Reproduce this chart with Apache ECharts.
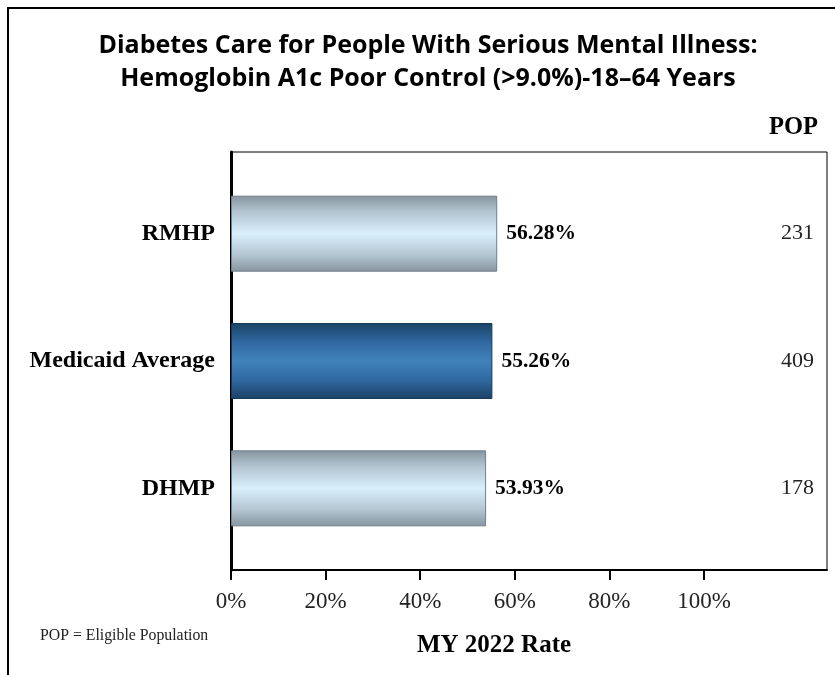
<!DOCTYPE html>
<html>
<head>
<meta charset="utf-8">
<script src="https://cdn.jsdelivr.net/npm/echarts@6/dist/echarts.min.js"></script>
<style>
html,body{margin:0;padding:0;background:#fff;}
#chart{width:835px;height:675px;}
</style>
</head>
<body>
<div id="chart"></div>
<script>
const categories = ['RMHP', 'Medicaid Average', 'DHMP'];
const rates = [56.28, 55.26, 53.93];
const pops = [231, 409, 178];
const xTicks = [0, 20, 40, 60, 80, 100];
const highlightCategory = 'Medicaid Average';

const serif = '"Liberation Serif", "Times New Roman", serif';

const lightFill = {
  type: 'linear', x: 0, y: 0, x2: 0, y2: 1,
  colorStops: [
    { offset: 0, color: '#87959f' },
    { offset: 0.22, color: '#b3c6d2' },
    { offset: 0.5, color: '#d9effc' },
    { offset: 0.78, color: '#b3c6d2' },
    { offset: 1, color: '#87959f' }
  ]
};
const darkFill = {
  type: 'linear', x: 0, y: 0, x2: 0, y2: 1,
  colorStops: [
    { offset: 0, color: '#1b4266' },
    { offset: 0.25, color: '#3068a0' },
    { offset: 0.5, color: '#4182bb' },
    { offset: 0.75, color: '#3068a0' },
    { offset: 1, color: '#1b4266' }
  ]
};

const chart = echarts.init(document.getElementById('chart'));
chart.setOption({
  backgroundColor: '#fff',
  animation: false,
  grid: [
    { left: 231, right: 8, top: 152, bottom: 105, show: true, borderColor: '#000', borderWidth: 1, backgroundColor: 'transparent', containLabel: false },
    { left: 231, right: 8, top: 170, bottom: 123, containLabel: false }
  ],
  xAxis: [
    {
      gridIndex: 0, type: 'value', min: 0, max: 126, interval: 20,
      axisLine: { show: true, onZero: false, lineStyle: { color: '#000', width: 2 } },
      axisTick: { show: true, customValues: xTicks, length: 10, lineStyle: { color: '#000', width: 2 } },
      axisLabel: { customValues: xTicks, formatter: v => v + '%', fontFamily: serif, fontSize: 23, color: '#222', margin: 20 },
      splitLine: { show: false }
    },
    {
      gridIndex: 1, type: 'value', min: 0, max: 126, show: false, splitLine: { show: false }
    }
  ],
  yAxis: [
    {
      gridIndex: 0, type: 'value', min: 0, max: 1,
      axisLine: { show: true, onZero: false, lineStyle: { color: '#000', width: 3 } },
      axisTick: { show: false }, axisLabel: { show: false }, splitLine: { show: false }
    },
    {
      gridIndex: 1, type: 'category', inverse: true, data: categories,
      axisLine: { show: false }, axisTick: { show: false },
      axisLabel: { fontFamily: serif, fontWeight: 'bold', fontSize: 24, color: '#000', margin: 16 }
    },
    {
      gridIndex: 1, type: 'category', inverse: true, position: 'right', data: pops.map(String),
      axisLine: { show: false }, axisTick: { show: false },
      axisLabel: { inside: true, fontFamily: serif, fontSize: 22, color: '#222', margin: 13 }
    }
  ],
  series: [
    {
      type: 'bar', xAxisIndex: 1, yAxisIndex: 1, barWidth: 76,
      data: rates.map((v, i) => ({
        value: v,
        itemStyle: categories[i] === highlightCategory
          ? { color: darkFill, borderColor: '#163a5a', borderWidth: 1 }
          : { color: lightFill, borderColor: '#6f7f8a', borderWidth: 1 }
      })),
      label: {
        show: true, position: 'right', distance: 9,
        formatter: p => p.value.toFixed(2) + '%',
        fontFamily: serif, fontWeight: 'bold', fontSize: 21.5, color: '#000'
      }
    }
  ],
  graphic: [
    { type: 'line', shape: { x1: 7, y1: 8, x2: 835, y2: 8 }, style: { stroke: '#000', lineWidth: 2 } },
    { type: 'line', shape: { x1: 8, y1: 7, x2: 8, y2: 675 }, style: { stroke: '#000', lineWidth: 2 } },
    { type: 'text', x: 428, y: 46, style: { text: 'Diabetes Care for People With Serious Mental Illness:', font: 'bold 25px "Open Sans", "Noto Sans", sans-serif', fill: '#000', textAlign: 'center', textVerticalAlign: 'middle' } },
    { type: 'text', x: 428, y: 79, style: { text: 'Hemoglobin A1c Poor Control (>9.0%)-18\u201364 Years', font: 'bold 25px "Open Sans", "Noto Sans", sans-serif', fill: '#000', textAlign: 'center', textVerticalAlign: 'middle' } },
    { type: 'text', x: 818, y: 128, style: { text: 'POP', font: 'bold 24.5px ' + serif, fill: '#000', textAlign: 'right', textVerticalAlign: 'middle' } },
    { type: 'text', x: 494, y: 646, style: { text: 'MY 2022 Rate', font: 'bold 25px ' + serif, fill: '#000', textAlign: 'center', textVerticalAlign: 'middle' } },
    { type: 'text', x: 40, y: 636, style: { text: 'POP = Eligible Population', font: '15.8px ' + serif, fill: '#222', textAlign: 'left', textVerticalAlign: 'middle' } }
  ]
});
</script>
</body>
</html>
